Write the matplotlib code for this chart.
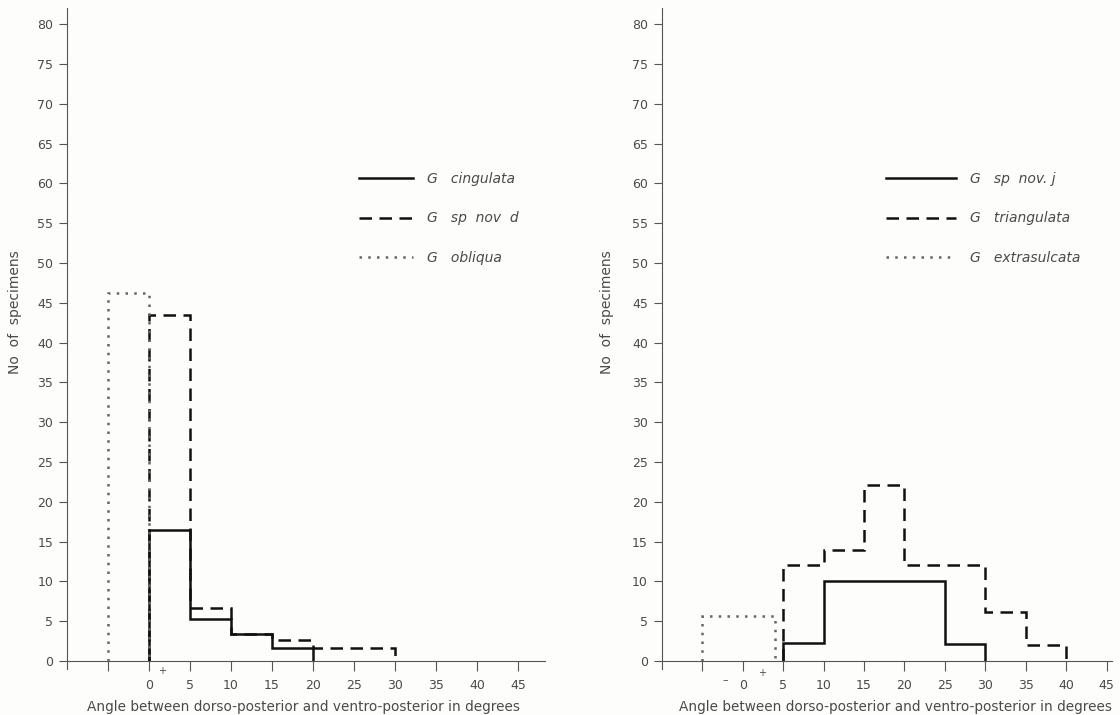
import matplotlib.pyplot as plt

# data: histogram bin edges and counts
left_cing_edges = [0, 5, 10, 15, 20]
left_cing_counts = [16.5, 5.3, 3.4, 1.6]
left_spd_edges = [0, 5, 10, 15, 20, 25, 30]
left_spd_counts = [43.5, 6.7, 3.4, 2.7, 1.7, 1.7]
left_obl_edges = [-5, 0]
left_obl_counts = [46.2]

right_spj_edges = [5, 10, 15, 20, 25, 30]
right_spj_counts = [2.3, 10.1, 10.1, 10.1, 2.2]
right_tri_edges = [5, 10, 15, 20, 25, 30, 35, 40]
right_tri_counts = [12.1, 14.0, 22.1, 12.1, 12.1, 6.2, 2.0]
right_ext_edges = [-5, 4]
right_ext_counts = [5.6]

yticks = list(range(0, 81, 5))
xticks = list(range(-5, 46, 5))
xticklabels = [""] + [str(t) for t in range(0, 46, 5)]

xlabel = "Angle between dorso-posterior and ventro-posterior in degrees"
ylabel = "No  of  specimens"

txt = "#4a4a4a"
plt.rcParams['font.family'] = ['DejaVu Sans']
plt.rcParams['font.size'] = 9

fig = plt.figure(figsize=(11.2, 7.15), dpi=100, facecolor="#fdfdfb")
ax1 = fig.add_axes([0.0598, 0.0643, 0.4268, 0.924])
ax2 = fig.add_axes([0.591, 0.0643, 0.402, 0.924])

solid = dict(color="#111111", lw=1.8, linestyle="-")
dashed = dict(color="#111111", lw=1.8, linestyle=(0, (5, 3)))
dotted = dict(color="#666666", lw=1.8, linestyle=(0, (1, 2.5)))


def setup(ax, xmax, xlab_x):
    ax.set_facecolor("#fdfdfb")
    ax.set_xlim(-10, xmax)
    ax.set_ylim(-1, 82)
    for s in ["top", "right"]:
        ax.spines[s].set_visible(False)
    ax.spines["bottom"].set_position(("data", 0))
    ax.spines["left"].set_color("#555555")
    ax.spines["bottom"].set_color("#555555")
    ax.set_yticks(yticks)
    ax.set_xticks(xticks)
    ax.set_xticklabels(xticklabels)
    ax.tick_params(axis="y", direction="out", length=6, colors="#555555",
                   labelcolor=txt, pad=4, labelsize=9)
    ax.tick_params(axis="x", direction="out", length=7, colors="#555555",
                   labelcolor=txt, pad=6, labelsize=9)
    ax.set_xlabel(xlabel, color=txt, fontsize=9.8)
    ax.xaxis.set_label_coords(xlab_x, -0.047)


leg_kw = dict(frameon=False, loc="upper left", labelspacing=1.82,
              handletextpad=1.0, prop={"style": "italic", "size": 10},
              labelcolor=txt)

# left panel
setup(ax1, 48.3, 0.494)
ax1.stairs(left_cing_counts, left_cing_edges, label="G   cingulata", **solid)
ax1.stairs(left_spd_counts, left_spd_edges, label="G   sp  nov  d", **dashed)
ax1.stairs(left_obl_counts, left_obl_edges, label="G   obliqua", **dotted)
ax1.text(1.6, -1.3, "+", fontsize=7, color=txt, ha="center", va="center")
ax1.set_ylabel(ylabel, color=txt, fontsize=10)
ax1.yaxis.set_label_coords(-0.094, 0.54)
ax1.legend(bbox_to_anchor=(0.584, 0.771), handlelength=3.9, **leg_kw)

# right panel
setup(ax2, 45.7, 0.518)
ax2.stairs(right_spj_counts, right_spj_edges, label="G   sp  nov. j", **solid)
ax2.stairs(right_tri_counts, right_tri_edges, label="G   triangulata", **dashed)
ax2.stairs(right_ext_counts, right_ext_edges, label="G   extrasulcata", **dotted)
ax2.text(-2.2, -2.4, "\u2013", fontsize=8, color=txt, ha="center", va="center")
ax2.text(2.4, -1.5, "+", fontsize=7, color=txt, ha="center", va="center")
ax2.set_ylabel(ylabel, color=txt, fontsize=10)
ax2.yaxis.set_label_coords(-0.107, 0.54)
ax2.legend(bbox_to_anchor=(0.471, 0.771), handlelength=5.0, **leg_kw)

fig.savefig("out.png", dpi=100, facecolor=fig.get_facecolor())
